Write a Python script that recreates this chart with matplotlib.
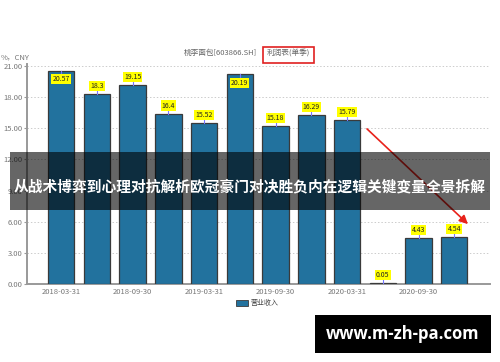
import matplotlib
matplotlib.use("Agg")
import matplotlib.pyplot as plt
from matplotlib.patches import Rectangle, FancyArrowPatch

plt.rcParams['font.family'] = ['Noto Sans CJK SC', 'DejaVu Sans']

# data
quarters = ['2018-03-31', '2018-06-30', '2018-09-30', '2018-12-31',
            '2019-03-31', '2019-06-30', '2019-09-30', '2019-12-31',
            '2020-03-31', '2020-06-30', '2020-09-30', '2020-12-31']
revenue = [20.57, 18.3, 19.15, 16.4, 15.52, 20.19, 15.18, 16.29, 15.79, 0.05, 4.43, 4.54]
yticks = [0, 3, 6, 9, 12, 15, 18, 21]
chart_title = '桃李面包[603866.SH]'
chart_sub = '利润表(单季)'
series_name = '营业收入'
unit_label = '%，CNY'
banner = '从战术博弈到心理对抗解析欧冠豪门对决胜负内在逻辑关键变量全景拆解'
site = 'www.m-zh-pa.com'

W, H = 500, 362
fig = plt.figure(figsize=(W / 100, H / 100), dpi=100)
fig.patch.set_facecolor('white')

def fx(px):
    return px / W

def fy(py):
    return 1 - py / H

ax = fig.add_axes([fx(27), fy(284), fx(490) - fx(27), fy(64) - fy(284)])
x = list(range(len(quarters)))
ax.bar(x, revenue, width=0.74, color='#22729e', edgecolor='#3a3a3a', linewidth=0.9, zorder=3)
ax.set_xlim(-0.955, 12.0)
ax.set_ylim(0, 21.2)
ax.set_yticks(yticks)
ax.set_yticklabels(['%.2f' % t for t in yticks], fontsize=5.5, color='#777777')
ax.set_xticks(x[::2])
ax.set_xticklabels(quarters[::2], fontsize=5.5, color='#777777')
ax.tick_params(axis='y', length=2, pad=1, color='#999999')
ax.tick_params(axis='x', length=0, pad=3)
ax.grid(axis='y', linestyle=(0, (1.5, 2)), color='#cccccc', linewidth=0.7, zorder=0)
for s in ['top', 'right']:
    ax.spines[s].set_visible(False)
ax.spines['left'].set_color('#999999')
ax.spines['left'].set_linewidth(1.4)
ax.spines['bottom'].set_color('#999999')
ax.spines['bottom'].set_linewidth(1.4)

# value labels
for xi, v in zip(x, revenue):
    if v + 1.3 > 21:
        ly = v - 0.8
        ax.plot([xi, xi], [v, v - 0.35], color='#7777ff', lw=0.8, zorder=4)
    else:
        ly = v + 0.8
        ax.plot([xi, xi], [v, v + 0.4], color='#7777ff', lw=0.8, zorder=4)
    ax.text(xi, ly, str(v), ha='center', va='center', fontsize=5, color='#222222', zorder=5,
            bbox=dict(boxstyle='square,pad=0.15', fc='#ffff00', ec='none'))

# titles
fig.text(fx(257), fy(53), chart_title, ha='right', va='center', fontsize=5.5, color='#666666')
fig.text(fx(267), fy(53), chart_sub, ha='left', va='center', fontsize=5.5, color='#666666')
fig.patches.append(Rectangle((fx(263), fy(63)), fx(314) - fx(263), fy(47) - fy(63),
                             transform=fig.transFigure, fill=False, ec='#e02020', lw=1.2))
fig.text(fx(1), fy(57), unit_label, ha='left', va='center', fontsize=5.5, color='#777777')

# legend
fig.patches.append(Rectangle((fx(236), fy(306)), fx(12), fy(300) - fy(306),
                             transform=fig.transFigure, fc='#22729e', ec='#3a3a3a', lw=0.6))
fig.text(fx(251), fy(303), series_name, ha='left', va='center', fontsize=5, color='#444444')

# red arrow
fig.patches.append(FancyArrowPatch((fx(365), fy(127)), (fx(470), fy(226)),
                                   transform=fig.transFigure, arrowstyle='-|>,head_length=5,head_width=2.5',
                                   color='#e8221b', lw=1.2, zorder=6))

# dark banner over the chart
fig.patches.append(Rectangle((fx(10), fy(210)), fx(480), fy(152) - fy(210),
                             transform=fig.transFigure, fc='black', alpha=0.6, ec='none', zorder=7))
fig.text(fx(250), fy(186), banner, ha='center', va='center', fontsize=10.6, color='white',
         fontweight='bold', zorder=8)

# watermark box
fig.patches.append(Rectangle((fx(315), fy(353)), fx(176), fy(315) - fy(353),
                             transform=fig.transFigure, fc='black', ec='none', zorder=7))
fig.text(fx(403), fy(334), site, ha='center', va='center', fontsize=12, color='white',
         fontweight='bold', family=['Open Sans', 'DejaVu Sans'], zorder=8)

fig.savefig('out.png', dpi=100)
